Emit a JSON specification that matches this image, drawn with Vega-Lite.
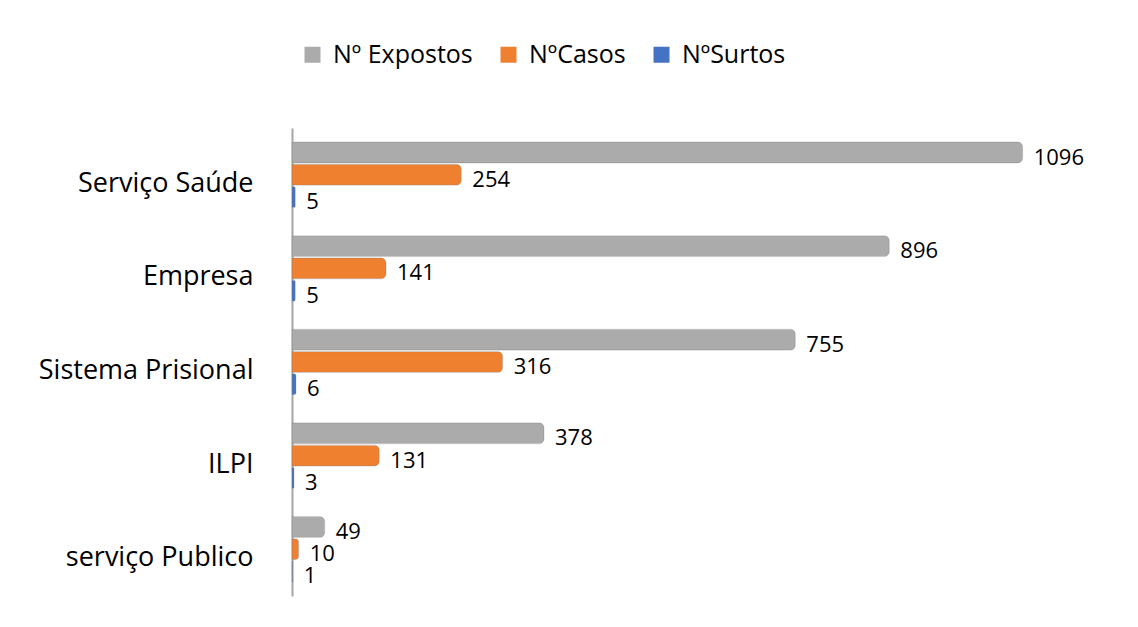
{
  "$schema": "https://vega.github.io/schema/vega-lite/v6.json",
  "autosize": {"type": "none"},
  "width": 800,
  "height": 468,
  "padding": {"left": 292, "top": 128, "right": 46, "bottom": 31},
  "background": "white",
  "config": {"view": {"stroke": null}, "font": "Open Sans"},
  "data": {"values": [
    {"cat": "Serviço Saúde", "serie": "Nº Expostos", "v": 1096},
    {"cat": "Serviço Saúde", "serie": "NºCasos", "v": 254},
    {"cat": "Serviço Saúde", "serie": "NºSurtos", "v": 5},
    {"cat": "Empresa", "serie": "Nº Expostos", "v": 896},
    {"cat": "Empresa", "serie": "NºCasos", "v": 141},
    {"cat": "Empresa", "serie": "NºSurtos", "v": 5},
    {"cat": "Sistema Prisional", "serie": "Nº Expostos", "v": 755},
    {"cat": "Sistema Prisional", "serie": "NºCasos", "v": 316},
    {"cat": "Sistema Prisional", "serie": "NºSurtos", "v": 6},
    {"cat": "ILPI", "serie": "Nº Expostos", "v": 378},
    {"cat": "ILPI", "serie": "NºCasos", "v": 131},
    {"cat": "ILPI", "serie": "NºSurtos", "v": 3},
    {"cat": "serviço Publico", "serie": "Nº Expostos", "v": 49},
    {"cat": "serviço Publico", "serie": "NºCasos", "v": 10},
    {"cat": "serviço Publico", "serie": "NºSurtos", "v": 1}
  ]},
  "encoding": {
    "y": {"field": "cat", "type": "nominal", "sort": null,
      "scale": {"paddingInner": 0.3, "paddingOuter": 0.15},
      "axis": {"title": null, "ticks": false, "domain": true, "domainColor": "#a6a6a6", "domainWidth": 2,
        "labelFontSize": 27, "labelColor": "#000000", "labelPadding": 39, "labelOffset": 9, "labelFont": "Open Sans", "labelLimit": 300}},
    "yOffset": {"field": "serie", "type": "nominal", "sort": ["Nº Expostos", "NºCasos", "NºSurtos"],
      "scale": {"paddingInner": 0.06}},
    "x": {"field": "v", "type": "quantitative", "scale": {"domain": [0, 1200]}, "axis": null}
  },
  "layer": [
    {
      "mark": {"type": "bar", "cornerRadiusEnd": 5, "stroke": "#7f7f7f", "strokeOpacity": 0.35, "strokeWidth": 0.8},
      "encoding": {
        "color": {"field": "serie", "type": "nominal",
          "scale": {"domain": ["Nº Expostos", "NºCasos", "NºSurtos"], "range": ["#ababab", "#ee8030", "#4472c4"]},
          "legend": {"title": null, "orient": "none", "legendX": 8, "legendY": -86, "direction": "horizontal",
            "symbolType": "square", "symbolSize": 256, "symbolStrokeWidth": 0, "labelFontSize": 25, "labelFont": "Open Sans",
            "labelColor": "#000000", "columnPadding": 23, "labelOffset": 8, "symbolOpacity": 1}
        }
      }
    },
    {
      "mark": {"type": "text", "align": "left", "baseline": "middle", "dx": 11, "dy": 5, "fontSize": 22, "font": "Open Sans", "color": "#000000"},
      "encoding": {"text": {"field": "v", "type": "quantitative"}}
    }
  ]
}
